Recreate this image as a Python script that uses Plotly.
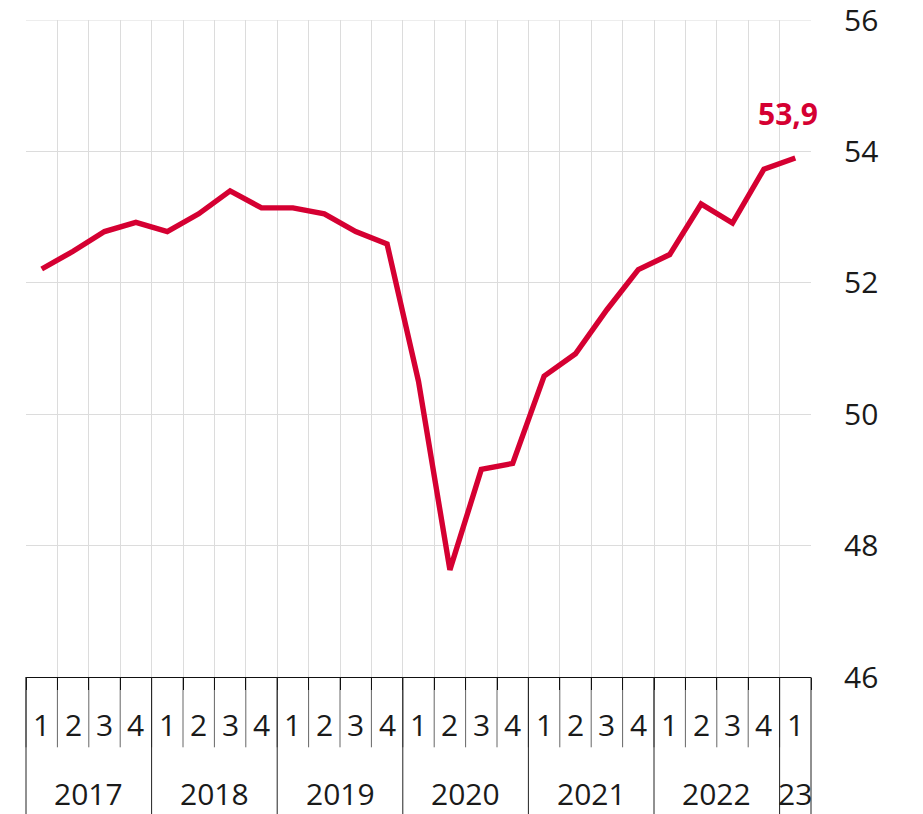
import plotly.graph_objects as go

# quarterly index, 2017 Q1 .. 2023 Q1
years = ["2017", "2018", "2019", "2020", "2021", "2022", "23"]
quarters_per_year = [4, 4, 4, 4, 4, 4, 1]
values = [
    52.21, 52.48, 52.78, 52.92,
    52.78, 53.05, 53.40, 53.14,
    53.14, 53.05, 52.78, 52.59,
    50.50, 47.63, 49.16, 49.25,
    50.58, 50.92, 51.59, 52.20,
    52.43, 53.20, 52.91, 53.73,
    53.90,
]
y_ticks = [46, 48, 50, 52, 54, 56]

RED = "#d50032"
GRID = "#dcdcdc"
FONT = "Open Sans"
TXT = "#1a1a1a"

quarter_labels = []
for n in quarters_per_year:
    quarter_labels += [str(q + 1) for q in range(n)]
idx = list(range(len(values)))
n = len(values)

fig = go.Figure()
fig.add_trace(go.Scatter(
    x=idx, y=values, mode="lines",
    line=dict(color=RED, width=5.4),
    hoverinfo="skip", showlegend=False,
))

# value label on last point
fig.add_annotation(
    x=idx[-1], y=values[-1], text="<b>" + f"{values[-1]:.1f}".replace(".", ",") + "</b>",
    showarrow=False, xshift=-7, yshift=44, yanchor="middle",
    font=dict(family=FONT, size=30, color=RED),
)

QY = -0.073   # quarter label row
YY = -0.177   # year label row
QDIV = -0.107
YDIV = -0.22


def xp(b):
    # paper position of boundary b (between index b-1 and b)
    return b / n


# quarter labels and dividers
for i, lab in enumerate(quarter_labels):
    fig.add_annotation(x=i, y=QY, xref="x", yref="paper", yanchor="middle",
                       text=lab, showarrow=False,
                       font=dict(family=FONT, size=30, color=TXT))
    fig.add_shape(type="line", xref="paper", yref="paper", x0=xp(i), x1=xp(i),
                  y0=0, y1=QDIV, layer="below", line=dict(color="#666", width=1))

# year labels and dividers
start = 0
for yr, cnt in zip(years, quarters_per_year):
    mid = start + (cnt - 1) / 2
    fig.add_annotation(x=mid, y=YY, xref="x", yref="paper", yanchor="middle",
                       text=yr, showarrow=False,
                       font=dict(family=FONT, size=30, color=TXT))
    fig.add_shape(type="line", xref="paper", yref="paper", x0=xp(start), x1=xp(start),
                  y0=0, y1=YDIV, line=dict(color="#222", width=1))
    start += cnt
fig.add_shape(type="line", xref="paper", yref="paper", x0=1, x1=1,
              y0=0, y1=YDIV, line=dict(color="#222", width=1))

# grid line at the top edge (plotly drops grid lines on the range edge)
fig.add_shape(type="line", xref="paper", yref="y", x0=0, x1=1, y0=y_ticks[-1], y1=y_ticks[-1],
              layer="below", line=dict(color=GRID, width=1))

fig.update_layout(
    width=915, height=806,
    margin=dict(l=18, r=112, t=12, b=137),
    plot_bgcolor="white", paper_bgcolor="white",
    font=dict(family=FONT, size=30, color=TXT),
    xaxis=dict(
        range=[-0.5, n - 0.5],
        tickvals=[b - 0.5 for b in range(n + 1)],
        showticklabels=False, ticks="outside", ticklen=12, tickcolor="#111",
        showgrid=True, gridcolor=GRID, gridwidth=1,
        showline=True, linecolor="#111", linewidth=1,
        zeroline=False, fixedrange=True, automargin=False,
    ),
    yaxis=dict(
        range=[46, 56.0001], tickvals=y_ticks, side="right",
        showgrid=True, gridcolor=GRID, gridwidth=1,
        ticks="", ticklabelstandoff=32, ticklabeloverflow="allow",
        zeroline=False, showline=False, fixedrange=True, automargin=False,
        tickfont=dict(family=FONT, size=30, color=TXT),
    ),
)

fig.write_html("out.html")
